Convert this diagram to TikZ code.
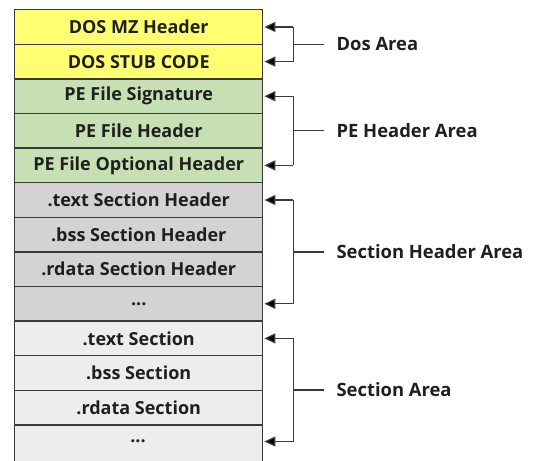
\documentclass[tikz,border=0pt]{standalone}
\usepackage{fontspec}
\setmainfont{Open Sans}
\usetikzlibrary{arrows.meta,calc}
\definecolor{dosyellow}{HTML}{FFFF72}
\definecolor{pegreen}{HTML}{C6E0B4}
\definecolor{shgray}{HTML}{D4D2D2}
\definecolor{secgray}{HTML}{EDEDED}
\definecolor{edge}{HTML}{3A3A3A}
\tikzset{
  cell/.style={draw=edge, line width=1.4pt, minimum width=248pt, minimum height=34.6pt,
    inner sep=0pt, anchor=north west, font=\fontsize{18}{20}\selectfont\bfseries, text=black!88},
  ptr/.style={draw=edge, line width=1.2pt, -{Triangle[length=11pt,width=10pt,fill=black]}},
  brace/.style={draw=edge, line width=1.2pt},
  area/.style={anchor=west, inner sep=0pt, font=\fontsize{18.4}{20}\selectfont\bfseries, text=black!88}
}
\begin{document}
\begin{tikzpicture}[x=1pt,y=-1pt]
\useasboundingbox (0,0) rectangle (534,460);
\begin{scope}
\clip (0,0) rectangle (534,460);
% stacked layout of the file
\node[cell, fill=dosyellow] (r1)  at (14, 9.0)   {DOS MZ Header};
\node[cell, fill=dosyellow] (r2)  at (14, 43.6)  {DOS STUB CODE};
\node[cell, fill=pegreen]   (r3)  at (14, 78.2)  {PE File Signature};
\node[cell, fill=pegreen]   (r4)  at (14, 112.8) {PE File Header};
\node[cell, fill=pegreen]   (r5)  at (14, 147.4) {PE File Optional Header};
\node[cell, fill=shgray]    (r6)  at (14, 182.0) {.text Section Header};
\node[cell, fill=shgray]    (r7)  at (14, 216.6) {.bss Section Header};
\node[cell, fill=shgray]    (r8)  at (14, 251.2) {.rdata Section Header};
\node[cell, fill=shgray]    (r9)  at (14, 285.8) {...};
\node[cell, fill=secgray]   (r10) at (14, 320.4) {.text Section};
\node[cell, fill=secgray]   (r11) at (14, 355.0) {.bss Section};
\node[cell, fill=secgray]   (r12) at (14, 389.6) {.rdata Section};
\node[cell, fill=secgray, minimum height=40pt] (r13) at (14, 424.2) {};
\node[font=\fontsize{18}{20}\selectfont\bfseries, text=black!88] (r13t) at (138, 441.5) {...};
\end{scope}
% brackets grouping the areas
\foreach \a/\b/\lbl/\txt in {r1/r2/dos/Dos Area, r3/r5/pe/PE Header Area, r6/r9/sh/Section Header Area}{
  \coordinate (\lbl top) at ($(\a.east)+(30,0)$);
  \coordinate (\lbl bot) at ($(\b.east)+(30,0)$);
  \draw[brace] (\lbl top) -- (\lbl bot);
  \draw[ptr] (\lbl top) -- ($(\a.east)+(1,0)$);
  \draw[ptr] (\lbl bot) -- ($(\b.east)+(1,0)$);
  \coordinate (\lbl mid) at ($(\lbl top)!0.5!(\lbl bot)$);
  \coordinate (\lbl end) at ($(\lbl mid)+(31,0)$);
  \draw[brace] (\lbl mid) -- (\lbl end);
  \node[area] (\lbl txt) at ($(\lbl end)+(12,0)$) {\txt};
}
\coordinate (sectop) at ($(r10.east)+(30,0)$);
\coordinate (secbot) at (r10.east |- r13t);
\coordinate (secbot) at ($(secbot)+(30,0)$);
\draw[brace] (sectop) -- (secbot);
\draw[ptr] (sectop) -- ($(r10.east)+(1,0)$);
\draw[ptr] (secbot) -- ($(r10.east |- r13t)+(1,0)$);
\coordinate (secmid) at ($(sectop)!0.5!(secbot)$);
\coordinate (secend) at ($(secmid)+(31,0)$);
\draw[brace] (secmid) -- (secend);
\node[area] (sectxt) at ($(secend)+(12,0)$) {Section Area};
\end{tikzpicture}
\end{document}
